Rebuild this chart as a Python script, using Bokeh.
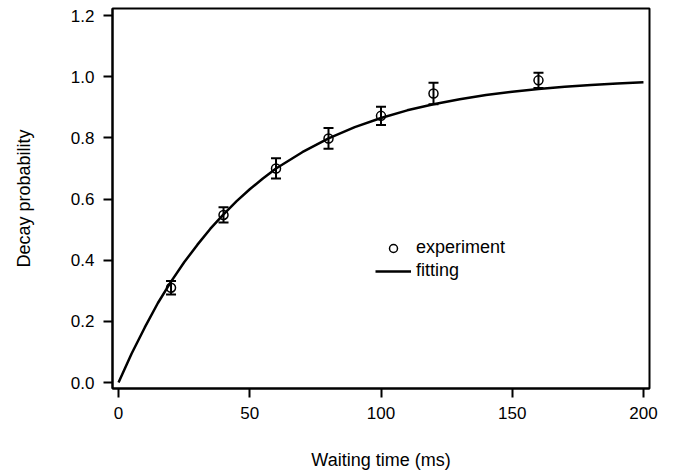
import numpy as np
from bokeh.plotting import figure
from bokeh.models import (ColumnDataSource, Whisker, TeeHead, FixedTicker, Range1d,
                          Legend, LegendItem, NumeralTickFormatter)
from bokeh.embed import file_html
from bokeh.resources import INLINE

# experimental data
wait_ms = [20, 40, 60, 80, 100, 120, 160]
decay_prob = [0.31, 0.548, 0.70, 0.798, 0.872, 0.945, 0.988]
decay_err = [0.022, 0.025, 0.033, 0.034, 0.030, 0.035, 0.025]

# fitted curve
fit_t = [0, 5, 10, 15, 20, 25, 30, 35, 40, 45, 50, 55, 60, 70, 80, 90, 100,
         110, 120, 130, 140, 150, 160, 170, 180, 190, 200]
fit_p = [0.0, 0.095, 0.18, 0.26, 0.33, 0.393, 0.45, 0.503, 0.55, 0.593, 0.632,
         0.667, 0.70, 0.753, 0.798, 0.835, 0.865, 0.89, 0.91, 0.926, 0.94,
         0.951, 0.96, 0.967, 0.973, 0.978, 0.982]

x_ticks = [0, 50, 100, 150, 200]
y_ticks = [0.0, 0.2, 0.4, 0.6, 0.8, 1.0, 1.2]

FONT = "Liberation Sans"

p = figure(width=674, height=476, output_backend="svg", toolbar_location=None,
           x_range=Range1d(-2.3, 202.3), y_range=Range1d(-0.0196, 1.223),
           min_border_left=112, min_border_right=25, min_border_top=8,
           min_border_bottom=88)
p.background_fill_color = "white"
p.border_fill_color = "white"
p.outline_line_color = "black"
p.outline_line_width = 2
p.xgrid.visible = False
p.ygrid.visible = False

for ax in (p.xaxis[0], p.yaxis[0]):
    ax.axis_line_width = 2
    ax.axis_line_color = "black"
    ax.major_tick_line_width = 2
    ax.major_tick_in = 0
    ax.major_tick_out = 9
    ax.minor_tick_line_color = None
    ax.major_label_text_font = FONT
    ax.major_label_text_font_size = "17px"
    ax.major_label_text_color = "black"
    ax.axis_label_text_font = FONT
    ax.axis_label_text_font_size = "18px"
    ax.axis_label_text_font_style = "normal"
    ax.axis_label_text_color = "black"

p.xaxis.ticker = FixedTicker(ticks=x_ticks)
p.yaxis.ticker = FixedTicker(ticks=y_ticks)
p.yaxis.formatter = NumeralTickFormatter(format="0.0")
p.xaxis.axis_label = "Waiting time (ms)"
p.yaxis.axis_label = "Decay probability"
p.xaxis.major_label_standoff = 9
p.yaxis.major_label_standoff = 9
p.xaxis.axis_label_standoff = 28
p.yaxis.axis_label_standoff = 34

fit_r = p.line(fit_t, fit_p, line_color="black", line_width=2.5)

src = ColumnDataSource(data=dict(
    x=wait_ms, y=decay_prob,
    upper=list(np.array(decay_prob) + np.array(decay_err)),
    lower=list(np.array(decay_prob) - np.array(decay_err)),
))
wh = Whisker(source=src, base="x", upper="upper", lower="lower",
             line_color="black", line_width=2,
             upper_head=TeeHead(size=10, line_width=2, line_color="black"),
             lower_head=TeeHead(size=10, line_width=2, line_color="black"))
p.add_layout(wh)
pts = p.scatter("x", "y", source=src, marker="circle", size=9,
                fill_color=None, line_color="black", line_width=1.5)

legend = Legend(items=[LegendItem(label="experiment", renderers=[pts]),
                       LegendItem(label="fitting", renderers=[fit_r])],
                location=(263, 107), padding=0, margin=0, spacing=2,
                glyph_width=36, glyph_height=20, label_height=20,
                label_standoff=5, border_line_color=None,
                background_fill_alpha=0, label_text_color="black",
                label_text_font=FONT, label_text_font_size="18px")
p.add_layout(legend)

open("out.html", "w").write(file_html(p, INLINE))
